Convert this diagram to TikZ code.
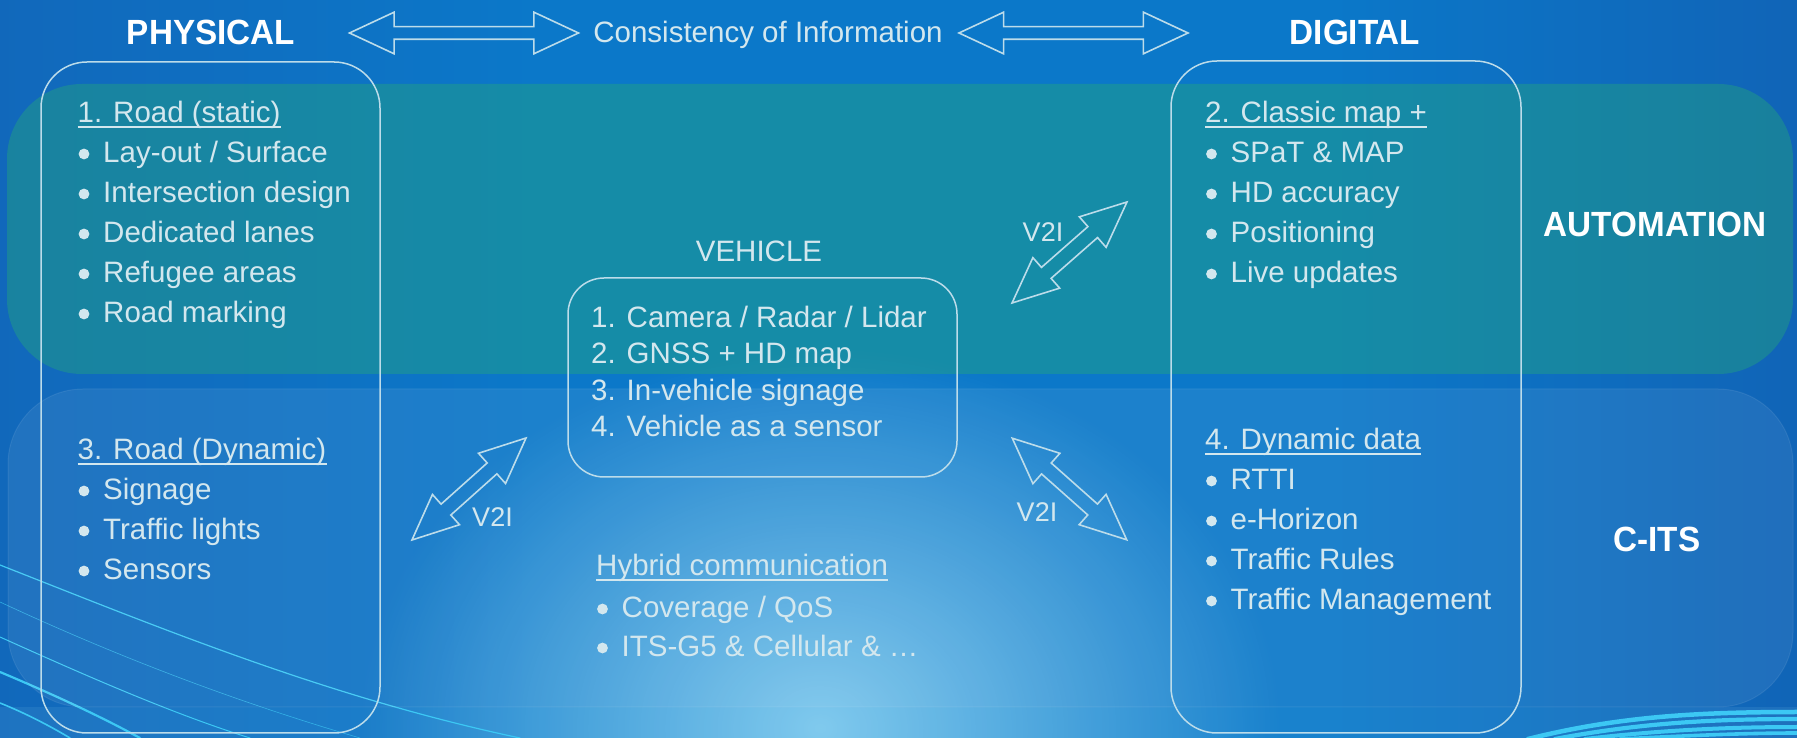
\documentclass[tikz,border=0pt]{standalone}
\usepackage{fontspec}
\setmainfont{Liberation Sans}
\newfontfamily\titlefont{Liberation Sans}[FakeStretch=0.95]
\usetikzlibrary{shapes.arrows,fadings}

\definecolor{bgL}{HTML}{1C4EA4}
\definecolor{bgC}{HTML}{0B78C9}
\definecolor{bgR}{HTML}{1B3E94}
\definecolor{txt}{HTML}{D3E7EE}
\definecolor{edge}{HTML}{BCDCEA}
\definecolor{autoband}{RGB}{38,170,118}
\definecolor{swoosh}{HTML}{3CC8F4}
\definecolor{glow}{HTML}{9ADCF6}

\pgfdeclarehorizontalshading{bgshade}{100bp}{color(0bp)=(bgL); color(40bp)=(bgC); color(62bp)=(bgC); color(100bp)=(bgR)}
\tikzfading[name=glowfade, inner color=transparent!20, outer color=transparent!100]

\tikzset{
  body/.style={anchor=base west, inner sep=0pt, text=txt, font=\fontsize{29.5}{35}\selectfont},
  ttl/.style={anchor=base, inner sep=0pt, text=white, font=\titlefont\bfseries\fontsize{35}{40}\selectfont},
  lbl/.style={anchor=base, inner sep=0pt, text=txt, font=\fontsize{27}{30}\selectfont},
  frame/.style={draw=edge, line width=1.5pt},
  ulline/.style={draw=txt, line width=2.2pt},
  bdot/.style={fill=txt},
  blockarrow/.style={double arrow, draw=edge, line width=1.6pt, inner sep=0pt,
    text height=11pt, text depth=0pt, minimum height=229pt,
    double arrow head extend=14.5pt, double arrow tip angle=50},
  v2iarrow/.style={double arrow, draw=edge, line width=1.6pt, inner sep=0pt,
    text height=13pt, text depth=0pt, minimum height=153pt,
    double arrow head extend=13pt, double arrow tip angle=48},
  swline/.style={draw=swoosh, line cap=round},
}

% bullet item: text node plus a round dot in front of it
\newcommand\bitem[3]{%
  \node[body] (#1) at (#2) {#3};
  \fill[bdot] ([xshift=-19pt,yshift=9pt]#1.base west) circle (5.4pt);}
% underlined heading
\newcommand\uhead[3]{%
  \node[body] (#1) at (#2) {#3};
  \draw[ulline] ([yshift=-4pt]#1.base west) -- ([yshift=-4pt]#1.base east);}

\begin{document}
\begin{tikzpicture}[x=1pt,y=1pt]
\useasboundingbox (0,0) rectangle (1797,738);
\clip (0,0) rectangle (1797,738);

% background
\shade[shading=bgshade] (0,0) rectangle (1797,738);
\fill[glow, path fading=glowfade] (820,10) ellipse [x radius=460, y radius=380];
\fill[glow, opacity=0.10] (0,0) rectangle (1797,31);

% swooshes, lower left
\draw[swline, line width=1.2pt] (0,173) .. controls (160,110) and (330,40) .. (520,0);
\draw[swline, line width=0.6pt, opacity=0.7] (0,136) .. controls (120,80) and (240,35) .. (360,0);
\draw[swline, line width=1.0pt] (0,101) .. controls (80,65) and (170,25) .. (250,0);
\draw[swline, line width=2.2pt] (0,66) .. controls (50,45) and (100,22) .. (140,0);
\draw[swline, line width=1.6pt] (0,35) .. controls (25,25) and (50,12) .. (70,0);
% swooshes, lower right
\draw[swline, line width=4.5pt] (1528,-1) .. controls (1620,22) and (1700,26) .. (1800,26);
\draw[swline, line width=4.2pt] (1555,-1) .. controls (1645,16) and (1720,19) .. (1800,19);
\draw[swline, line width=4pt] (1585,-1) .. controls (1670,9) and (1740,11) .. (1800,11);
\draw[swline, line width=3.6pt] (1620,-1) .. controls (1700,3) and (1750,5) .. (1800,5);

% horizontal bands
\fill[autoband, opacity=0.40, rounded corners=75pt] (7,364) rectangle (1793,654);
\fill[white, opacity=0.07, rounded corners=75pt] (8,31) rectangle (1793,349);
\draw[white, opacity=0.08, line width=1pt, rounded corners=75pt] (8,31) rectangle (1793,349);

% column frames
\draw[frame, rounded corners=46pt] (41,5) rectangle (380,676);
\draw[frame, rounded corners=46pt] (1171,5) rectangle (1521,677);
\draw[frame, rounded corners=36pt] (568,261) rectangle (957,460);

% headings
\node[ttl] (physical) at (211,693) {PHYSICAL};
\node[ttl] (digital) at (1355,693) {DIGITAL};
\node[body, anchor=base] (consist) at (768,695) {Consistency of Information};
\node[ttl] (automation) at (1655,501) {AUTOMATION};
\node[ttl] (cits) at (1657,186) {C-ITS};
\node[body, anchor=base] (vehicle) at (759,476) {VEHICLE};

% consistency arrows
\node[blockarrow] (ciL) at (464,705) {};
\node[blockarrow] (ciR) at (1073.5,705) {};

% physical column
\uhead{roadS}{77.5,615}{1. Road (static)}
\bitem{rs1}{103,575}{Lay-out / Surface}
\bitem{rs2}{103,535}{Intersection design}
\bitem{rs3}{103,495}{Dedicated lanes}
\bitem{rs4}{103,455}{Refugee areas}
\bitem{rs5}{103,415}{Road marking}

\uhead{roadD}{77.5,278}{3. Road (Dynamic)}
\bitem{rd1}{103,238}{Signage}
\bitem{rd2}{103,198}{Traffic lights}
\bitem{rd3}{103,158}{Sensors}

% vehicle
\node[body] (ve1) at (591,410) {1. Camera / Radar / Lidar};
\node[body] (ve2) at (591,374) {2. GNSS + HD map};
\node[body] (ve3) at (591,337) {3. In-vehicle signage};
\node[body] (ve4) at (591,301) {4. Vehicle as a sensor};

% hybrid communication
\uhead{hyb}{596,162}{Hybrid communication}
\bitem{hy1}{621.5,120}{Coverage / QoS}
\bitem{hy2}{621.5,81}{ITS-G5 \& Cellular \& \dots}

% digital column
\uhead{cmap}{1205,615}{2. Classic map +}
\bitem{cm1}{1230.5,575}{SPaT \& MAP}
\bitem{cm2}{1230.5,535}{HD accuracy}
\bitem{cm3}{1230.5,495}{Positioning}
\bitem{cm4}{1230.5,455}{Live updates}

\uhead{dyn}{1205,288}{4. Dynamic data}
\bitem{dy1}{1230.5,248}{RTTI}
\bitem{dy2}{1230.5,208}{e-Horizon}
\bitem{dy3}{1230.5,168}{Traffic Rules}
\bitem{dy4}{1230.5,128}{Traffic Management}

% V2I links
\node[v2iarrow, rotate=41.3] (v2iA) at (1069.5,485.5) {};
\node[v2iarrow, rotate=41.8] (v2iB) at (469,249) {};
\node[v2iarrow, rotate=-41.6] (v2iC) at (1069.5,249) {};
\node[lbl] (v2iAl) at (1043,496) {V2I};
\node[lbl] (v2iBl) at (492.5,211) {V2I};
\node[lbl] (v2iCl) at (1037,216) {V2I};
\end{tikzpicture}
\end{document}
